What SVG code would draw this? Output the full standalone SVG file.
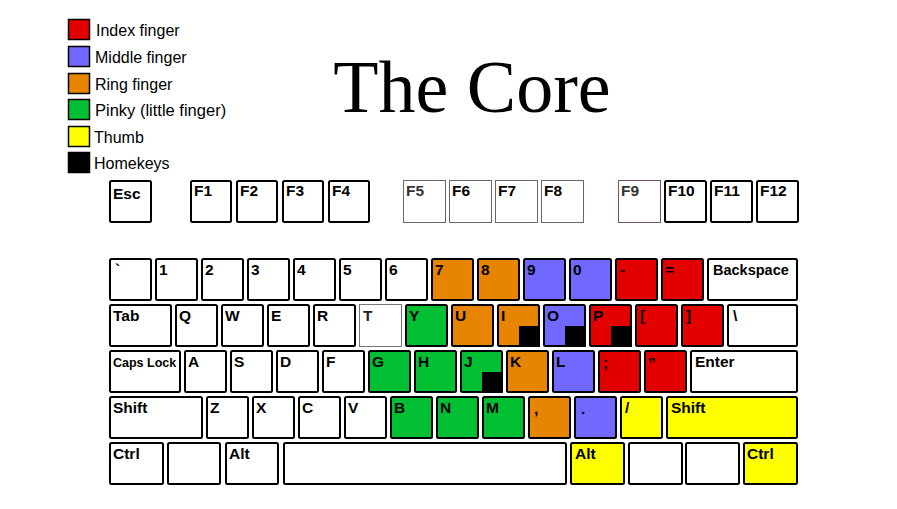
<svg xmlns="http://www.w3.org/2000/svg" width="897" height="509" viewBox="0 0 897 509">
<style>
.k{stroke:#000;stroke-width:2}
.thin{stroke:#666677;stroke-width:1}
.w{fill:#fff}.r{fill:#e30000}.b{fill:#7169ff}.o{fill:#e88500}.g{fill:#00bf33}.y{fill:#ffff00}
.t{font-family:"Liberation Sans",Arial,sans-serif;font-weight:bold;font-size:15.5px;fill:#000}
.lg{font-family:"Liberation Sans",Arial,sans-serif;font-size:16px;fill:#000}
.hk{fill:#000}
</style>
<rect width="897" height="509" fill="#fff"/>
<g id="legend">
<g id="legend-index"><rect x="68.5" y="19.5" width="21" height="20" class="r" stroke="#000" stroke-width="1.5"/><text x="96" y="36" class="lg">Index finger</text></g>
<g id="legend-middle"><rect x="68.5" y="46.5" width="21" height="20" class="b" stroke="#000" stroke-width="1.5"/><text x="95" y="63" class="lg">Middle finger</text></g>
<g id="legend-ring"><rect x="68.5" y="73.5" width="21" height="20" class="o" stroke="#000" stroke-width="1.5"/><text x="95" y="90" class="lg">Ring finger</text></g>
<g id="legend-pinky"><rect x="68.5" y="99.5" width="21" height="20" class="g" stroke="#000" stroke-width="1.5"/><text x="95" y="116" class="lg" style="font-size:16.5px">Pinky (little finger)</text></g>
<g id="legend-thumb"><rect x="68.5" y="126.5" width="21" height="20" class="y" stroke="#000" stroke-width="1.5"/><text x="94" y="143" class="lg">Thumb</text></g>
<g id="legend-home"><rect x="68.5" y="152.5" width="21" height="20" fill="#000" stroke="#000" stroke-width="1.5"/><text x="94" y="169" class="lg">Homekeys</text></g>
</g>
<g id="title"><text x="472" y="112" text-anchor="middle" font-family="'Liberation Serif','Times New Roman',serif" font-size="74" fill="#000">The Core</text></g>

<!-- Function row -->
<g id="k-esc"><rect x="110" y="181" width="41" height="41" rx="1.5" class="k w"/><text x="113" y="199" class="t">Esc</text></g>
<g id="k-f1"><rect x="191" y="181" width="40" height="41" rx="1.5" class="k w"/><text x="194" y="196" class="t">F1</text></g>
<g id="k-f2"><rect x="237" y="181" width="40" height="41" rx="1.5" class="k w"/><text x="240" y="196" class="t">F2</text></g>
<g id="k-f3"><rect x="283" y="181" width="40" height="41" rx="1.5" class="k w"/><text x="286" y="196" class="t">F3</text></g>
<g id="k-f4"><rect x="329" y="181" width="40" height="41" rx="1.5" class="k w"/><text x="332" y="196" class="t">F4</text></g>
<g id="k-f5"><rect x="403.5" y="180.5" width="42" height="42" class="w thin"/><text x="406" y="196" class="t" style="fill:#333">F5</text></g>
<g id="k-f6"><rect x="449.5" y="180.5" width="42" height="42" class="w thin"/><text x="452" y="196" class="t">F6</text></g>
<g id="k-f7"><rect x="495.5" y="180.5" width="42" height="42" class="w thin"/><text x="498" y="196" class="t">F7</text></g>
<g id="k-f8"><rect x="541.5" y="180.5" width="42" height="42" class="w thin"/><text x="544" y="196" class="t">F8</text></g>
<g id="k-f9"><rect x="618.5" y="180.5" width="42" height="42" class="w" stroke="#775555" stroke-width="1"/><text x="621" y="196" class="t" style="fill:#333">F9</text></g>
<g id="k-f10"><rect x="665" y="181" width="41" height="41" rx="1.5" class="k w"/><text x="668" y="196" class="t">F10</text></g>
<g id="k-f11"><rect x="711" y="181" width="41" height="41" rx="1.5" class="k w"/><text x="714" y="196" class="t">F11</text></g>
<g id="k-f12"><rect x="757" y="181" width="41" height="41" rx="1.5" class="k w"/><text x="760" y="196" class="t">F12</text></g>

<!-- Number row -->
<g id="k-grave"><rect x="110" y="259" width="41" height="41" rx="1.5" class="k w"/><text x="115" y="275" class="t">`</text></g>
<g id="k-1"><rect x="156" y="259" width="41" height="41" rx="1.5" class="k w"/><text x="159" y="275" class="t">1</text></g>
<g id="k-2"><rect x="202" y="259" width="41" height="41" rx="1.5" class="k w"/><text x="205" y="275" class="t">2</text></g>
<g id="k-3"><rect x="248" y="259" width="41" height="41" rx="1.5" class="k w"/><text x="251" y="275" class="t">3</text></g>
<g id="k-4"><rect x="294" y="259" width="41" height="41" rx="1.5" class="k w"/><text x="297" y="275" class="t">4</text></g>
<g id="k-5"><rect x="340" y="259" width="41" height="41" rx="1.5" class="k w"/><text x="343" y="275" class="t">5</text></g>
<g id="k-6"><rect x="386" y="259" width="41" height="41" rx="1.5" class="k w"/><text x="389" y="275" class="t">6</text></g>
<g id="k-7"><rect x="432" y="259" width="41" height="41" rx="1.5" class="k o"/><text x="435" y="275" class="t">7</text></g>
<g id="k-8"><rect x="478" y="259" width="41" height="41" rx="1.5" class="k o"/><text x="481" y="275" class="t">8</text></g>
<g id="k-9"><rect x="524" y="259" width="41" height="41" rx="1.5" class="k b"/><text x="527" y="275" class="t">9</text></g>
<g id="k-0"><rect x="570" y="259" width="41" height="41" rx="1.5" class="k b"/><text x="573" y="275" class="t">0</text></g>
<g id="k-minus"><rect x="616" y="259" width="41" height="41" rx="1.5" class="k r"/><text x="620" y="275" class="t">-</text></g>
<g id="k-equal"><rect x="662" y="259" width="41" height="41" rx="1.5" class="k r"/><text x="665" y="275" class="t">=</text></g>
<g id="k-backspace"><rect x="708" y="259" width="89" height="41" rx="1.5" class="k w"/><text x="713" y="275" class="t" style="font-size:14.5px">Backspace</text></g>

<!-- Tab row -->
<g id="k-tab"><rect x="110" y="305" width="61" height="41" rx="1.5" class="k w"/><text x="113" y="321" class="t">Tab</text></g>
<g id="k-q"><rect x="176" y="305" width="41" height="41" rx="1.5" class="k w"/><text x="179" y="321" class="t">Q</text></g>
<g id="k-w"><rect x="222" y="305" width="41" height="41" rx="1.5" class="k w"/><text x="225" y="321" class="t">W</text></g>
<g id="k-e"><rect x="268" y="305" width="41" height="41" rx="1.5" class="k w"/><text x="271" y="321" class="t">E</text></g>
<g id="k-r"><rect x="314" y="305" width="41" height="41" rx="1.5" class="k w"/><text x="317" y="321" class="t">R</text></g>
<g id="k-t"><rect x="359.5" y="304.5" width="42" height="42" class="w" stroke="#777" stroke-width="1"/><text x="363" y="321" class="t" style="fill:#222">T</text></g>
<g id="k-y"><rect x="406" y="305" width="41" height="41" rx="1.5" class="k g"/><text x="409" y="321" class="t">Y</text></g>
<g id="k-u"><rect x="452" y="305" width="41" height="41" rx="1.5" class="k o"/><text x="455" y="321" class="t">U</text></g>
<g id="k-i"><rect x="498" y="305" width="41" height="41" rx="1.5" class="k o"/><rect x="519" y="326" width="21" height="21" class="hk"/><text x="501" y="321" class="t">I</text></g>
<g id="k-o"><rect x="544" y="305" width="41" height="41" rx="1.5" class="k b"/><rect x="565" y="326" width="21" height="21" class="hk"/><text x="547" y="321" class="t">O</text></g>
<g id="k-p"><rect x="590" y="305" width="41" height="41" rx="1.5" class="k r"/><rect x="611" y="326" width="21" height="21" class="hk"/><text x="593" y="321" class="t">P</text></g>
<g id="k-lbracket"><rect x="636" y="305" width="41" height="41" rx="1.5" class="k r"/><text x="640" y="321" class="t">[</text></g>
<g id="k-rbracket"><rect x="682" y="305" width="41" height="41" rx="1.5" class="k r"/><text x="686" y="321" class="t">]</text></g>
<g id="k-backslash"><rect x="728" y="305" width="69" height="41" rx="1.5" class="k w"/><text x="733" y="321" class="t">\</text></g>

<!-- Caps row -->
<g id="k-caps"><rect x="110" y="351" width="70" height="41" rx="1.5" class="k w"/><text x="113" y="367" class="t" style="font-size:12.5px">Caps Lock</text></g>
<g id="k-a"><rect x="185" y="351" width="41" height="41" rx="1.5" class="k w"/><text x="188" y="367" class="t">A</text></g>
<g id="k-s"><rect x="231" y="351" width="41" height="41" rx="1.5" class="k w"/><text x="234" y="367" class="t">S</text></g>
<g id="k-d"><rect x="277" y="351" width="41" height="41" rx="1.5" class="k w"/><text x="280" y="367" class="t">D</text></g>
<g id="k-f"><rect x="323" y="351" width="41" height="41" rx="1.5" class="k w"/><text x="326" y="367" class="t">F</text></g>
<g id="k-g"><rect x="369" y="351" width="41" height="41" rx="1.5" class="k g"/><text x="372" y="367" class="t">G</text></g>
<g id="k-h"><rect x="415" y="351" width="41" height="41" rx="1.5" class="k g"/><text x="418" y="367" class="t">H</text></g>
<g id="k-j"><rect x="461" y="351" width="41" height="41" rx="1.5" class="k g"/><rect x="482" y="372" width="21" height="21" class="hk"/><text x="464" y="367" class="t">J</text></g>
<g id="k-k"><rect x="507" y="351" width="41" height="41" rx="1.5" class="k o"/><text x="510" y="367" class="t">K</text></g>
<g id="k-l"><rect x="553" y="351" width="41" height="41" rx="1.5" class="k b"/><text x="556" y="367" class="t">L</text></g>
<g id="k-semicolon"><rect x="599" y="351" width="41" height="41" rx="1.5" class="k r"/><text x="603" y="368" class="t">;</text></g>
<g id="k-quote"><rect x="645" y="351" width="41" height="41" rx="1.5" class="k r"/><text x="648" y="368" class="t">”</text></g>
<g id="k-enter"><rect x="691" y="351" width="106" height="41" rx="1.5" class="k w"/><text x="695" y="367" class="t">Enter</text></g>

<!-- Shift row -->
<g id="k-lshift"><rect x="110" y="397" width="92" height="41" rx="1.5" class="k w"/><text x="113" y="413" class="t">Shift</text></g>
<g id="k-z"><rect x="207" y="397" width="41" height="41" rx="1.5" class="k w"/><text x="210" y="413" class="t">Z</text></g>
<g id="k-x"><rect x="253" y="397" width="41" height="41" rx="1.5" class="k w"/><text x="256" y="413" class="t">X</text></g>
<g id="k-c"><rect x="299" y="397" width="41" height="41" rx="1.5" class="k w"/><text x="302" y="413" class="t">C</text></g>
<g id="k-v"><rect x="345" y="397" width="41" height="41" rx="1.5" class="k w"/><text x="348" y="413" class="t">V</text></g>
<g id="k-b"><rect x="391" y="397" width="41" height="41" rx="1.5" class="k g"/><text x="394" y="413" class="t">B</text></g>
<g id="k-n"><rect x="437" y="397" width="41" height="41" rx="1.5" class="k g"/><text x="440" y="413" class="t">N</text></g>
<g id="k-m"><rect x="483" y="397" width="41" height="41" rx="1.5" class="k g"/><text x="486" y="413" class="t">M</text></g>
<g id="k-comma"><rect x="529" y="397" width="41" height="41" rx="1.5" class="k o"/><text x="534" y="414" class="t">,</text></g>
<g id="k-period"><rect x="575" y="397" width="41" height="41" rx="1.5" class="k b"/><text x="581" y="414" class="t">.</text></g>
<g id="k-slash"><rect x="621" y="397" width="41" height="41" rx="1.5" class="k y"/><text x="625" y="413" class="t">/</text></g>
<g id="k-rshift"><rect x="667" y="397" width="130" height="41" rx="1.5" class="k y"/><text x="671" y="413" class="t">Shift</text></g>

<!-- Bottom row -->
<g id="k-lctrl"><rect x="110" y="443" width="53" height="41" rx="1.5" class="k w"/><text x="113" y="459" class="t">Ctrl</text></g>
<g id="k-lwin"><rect x="168" y="443" width="52" height="41" rx="1.5" class="k w"/></g>
<g id="k-lalt"><rect x="226" y="443" width="52" height="41" rx="1.5" class="k w"/><text x="229" y="459" class="t">Alt</text></g>
<g id="k-space"><rect x="284" y="443" width="282" height="41" rx="1.5" class="k w"/></g>
<g id="k-ralt"><rect x="571" y="443" width="53" height="41" rx="1.5" class="k y"/><text x="575" y="459" class="t">Alt</text></g>
<g id="k-rwin"><rect x="629" y="443" width="53" height="41" rx="1.5" class="k w"/></g>
<g id="k-menu"><rect x="686" y="443" width="53" height="41" rx="1.5" class="k w"/></g>
<g id="k-rctrl"><rect x="744" y="443" width="53" height="41" rx="1.5" class="k y"/><text x="747" y="459" class="t">Ctrl</text></g>
</svg>
